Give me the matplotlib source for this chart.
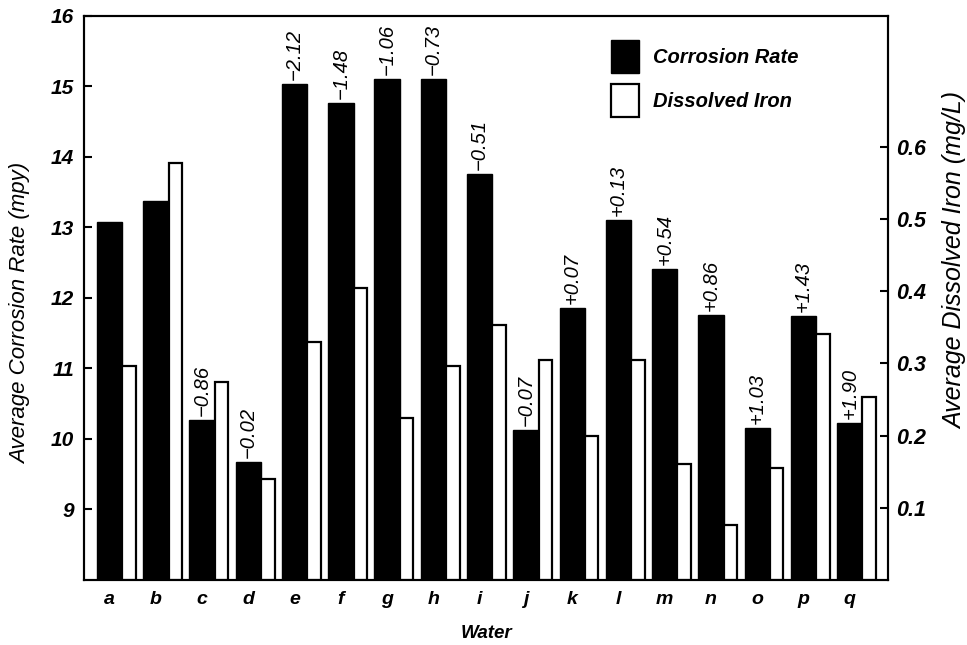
import matplotlib
matplotlib.use("Agg")
import matplotlib.pyplot as plt
import numpy as np

# -------------------------------
# Data
# -------------------------------
waters = list("abcdefghijklmnopq")
corrosion_rate = [13.08, 13.38, 10.27, 9.67, 15.04, 14.77, 15.11, 15.11, 13.76,
                  10.13, 11.86, 13.11, 12.41, 11.76, 10.15, 11.74, 10.23]
dissolved_iron = [0.297, 0.577, 0.274, 0.140, 0.329, 0.404, 0.225, 0.296, 0.353,
                  0.305, 0.200, 0.304, 0.160, 0.076, 0.155, 0.341, 0.253]
bar_notes = ["", "", "\u22120.86", "\u22120.02", "\u22122.12", "\u22121.48", "\u22121.06",
             "\u22120.73", "\u22120.51", "\u22120.07", "+0.07", "+0.13", "+0.54",
             "+0.86", "+1.03", "+1.43", "+1.90"]

plt.rcParams['font.family'] = ['Liberation Sans', 'DejaVu Sans']
plt.rcParams['font.style'] = 'italic'

fig = plt.figure(figsize=(9.67, 6.45), dpi=100)
ax = fig.add_axes([0.0869, 0.1008, 0.8313, 0.8744])
ax2 = ax.twinx()

x = np.arange(len(waters))
w_black = 0.55
w_white = 0.29

bars_cr = ax.bar(x, np.array(corrosion_rate) - 8, bottom=8, width=w_black, align='edge',
                 color='black', edgecolor='black', linewidth=1.0, label='Corrosion Rate')
bars_fe = ax2.bar(x + w_black, dissolved_iron, width=w_white, align='edge',
                  color='white', edgecolor='black', linewidth=1.6, label='Dissolved Iron')

# percentage change notes above the black bars
for xi, top, note in zip(x, corrosion_rate, bar_notes):
    if note:
        ax.annotate(note, (xi + w_black / 2, top), xytext=(0, 3), textcoords='offset points',
                    rotation=90, ha='center', va='bottom', fontsize=14.5, style='italic')

ax.set_ylim(8, 16)
ax2.set_ylim(0, 0.781)
ax.set_xlim(-0.28, 17.1)

ax.set_yticks(range(9, 17))
ax.set_yticklabels([str(v) for v in range(9, 17)], fontsize=15, weight='bold', style='italic')
ax2.set_yticks([0.1, 0.2, 0.3, 0.4, 0.5, 0.6])
ax2.set_yticklabels(['0.1', '0.2', '0.3', '0.4', '0.5', '0.6'], fontsize=15.5,
                    weight='bold', style='italic')
ax.set_xticks(x + w_black / 2)
ax.set_xticklabels(waters, fontsize=14, weight='bold', style='italic')

ax.tick_params(axis='y', direction='in', length=6, width=1.5, pad=7)
ax2.tick_params(axis='y', direction='in', length=6, width=1.5, pad=6)
ax.tick_params(axis='x', length=0, pad=8)

for a in (ax, ax2):
    for side in ('bottom', 'top', 'left', 'right'):
        a.spines[side].set_linewidth(1.5)

ax.set_ylabel('Average Corrosion Rate (mpy)', fontsize=16, style='italic')
ax.yaxis.set_label_coords(-0.066, 0.472)
ax2.set_ylabel('Average Dissolved Iron (mg/L)', fontsize=18, style='italic')
ax2.yaxis.set_label_coords(1.069, 0.566)
ax.set_xlabel('Water', fontsize=13.5, style='italic', weight='bold', labelpad=12)

ax2.legend(handles=[bars_cr, bars_fe], loc='upper left', bbox_to_anchor=(0.633, 0.99),
           frameon=False, handlelength=1.4, handleheight=2.2, handletextpad=0.7,
           labelspacing=0.5, prop={'size': 14.5, 'weight': 'bold', 'style': 'italic'})

fig.savefig('out.png', dpi=100)
